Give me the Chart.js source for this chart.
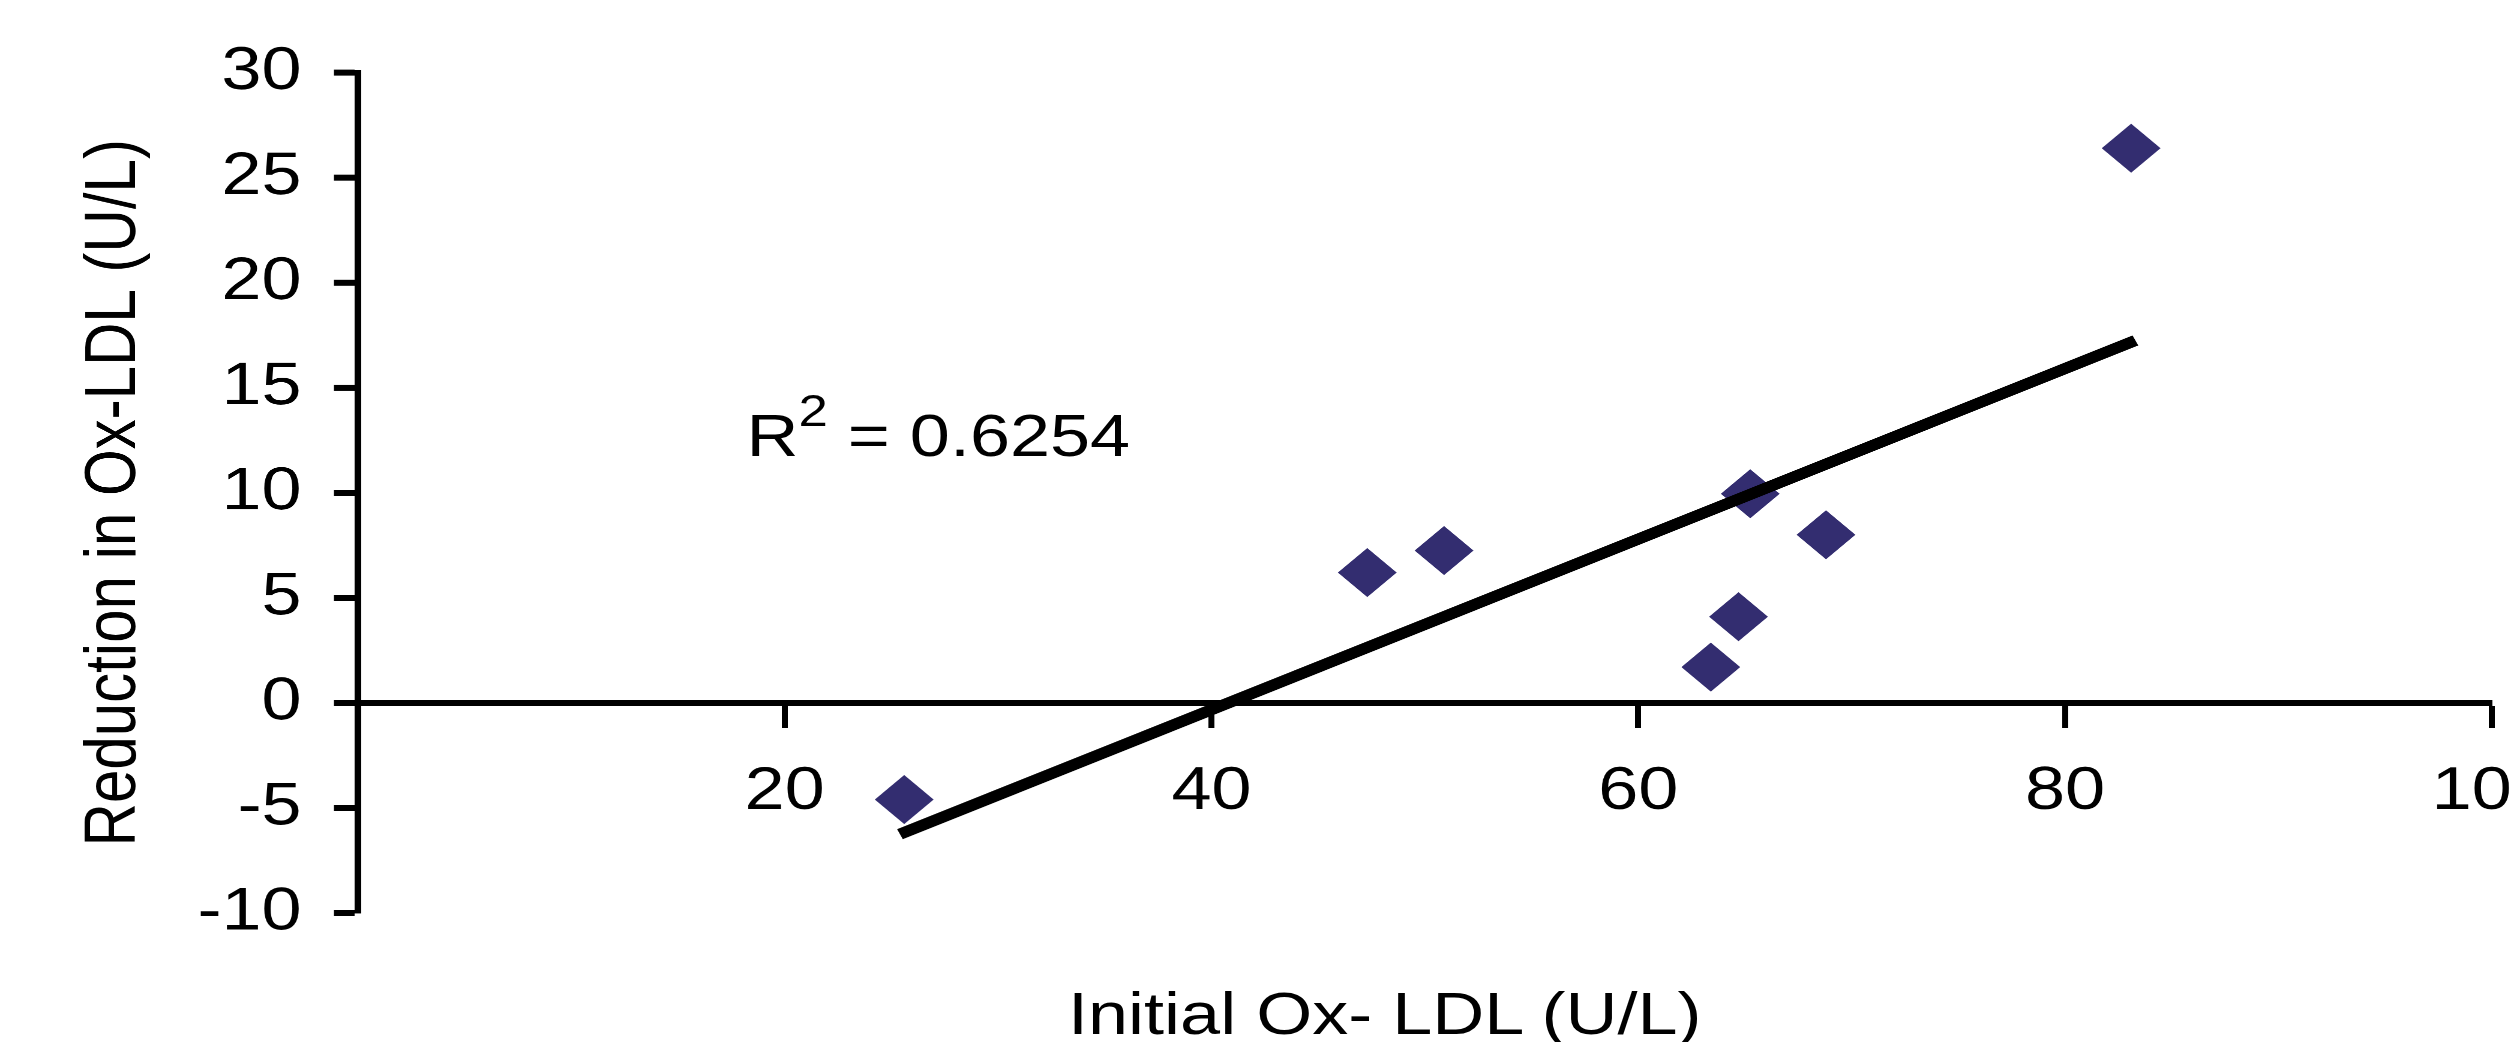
<!DOCTYPE html>
<html>
<head>
<meta charset="utf-8">
<script src="https://cdn.jsdelivr.net/npm/chart.js@4"></script>
<style>
  html, body { margin: 0; padding: 0; background: #fff; width: 2512px; height: 1042px; overflow: hidden; }
  /* the original figure is stretched sideways, so the whole drawing is widened by 1.2 */
  #wrap { position: relative; width: 2158px; height: 1042px; transform: scaleX(1.2); transform-origin: 0 0; }
  #box { position: absolute; left: 0; top: 0; width: 2158px; height: 975.5px; }
  .note { position: absolute; font-family: "Liberation Sans", Arial, sans-serif; font-size: 60px; line-height: 60px; color: #000; white-space: nowrap; }
  #r2 { left: 622px; top: 406px; }
  #r2 span { font-size: 44px; position: relative; top: -30px; line-height: 0; }
  #xtitle { left: 754px; top: 984px; width: 800px; text-align: center; }
</style>
</head>
<body>
<div id="wrap">
  <div id="box"><canvas id="chart"></canvas></div>
  <div id="r2" class="note">R<span>2</span> = 0.6254</div>
  <div id="xtitle" class="note">Initial Ox- LDL (U/L)</div>
</div>
<script>
// points
const initialOxLDL = [25.6, 47.3, 50.9, 63.4, 64.7, 65.25, 68.8, 83.1];
const reductionOxLDL = [-4.6, 6.2, 7.25, 1.7, 4.1, 9.95, 8.0, 26.4];

// ends of the drawn trend line
const trendX = [25.4, 83.3];
const trendY = [-6.25, 17.25];

const xTicks = [0, 20, 40, 60, 80, 100];
const yTicks = [-10, -5, 0, 5, 10, 15, 20, 25, 30];

const points = initialOxLDL.map((x, i) => ({x: x, y: reductionOxLDL[i]}));
const trend = trendX.map((x, i) => ({x: x, y: trendY[i]}));

Chart.defaults.font.family = '"Liberation Sans", Arial, sans-serif';
Chart.defaults.color = "#000";

const ctx = document.getElementById("chart").getContext("2d");

new Chart(ctx, {
  type: "scatter",
  data: {
    datasets: [
      {
        type: "line",
        label: "Trend",
        data: trend,
        borderColor: "#000",
        borderWidth: 11,
        pointRadius: 0,
        fill: false,
        tension: 0
      },
      {
        label: "Ox-LDL",
        data: points,
        pointStyle: "rectRot",
        pointRadius: 24.5,
        pointHoverRadius: 24.5,
        backgroundColor: "#332D70",
        borderWidth: 0
      }
    ]
  },
  options: {
    responsive: true,
    maintainAspectRatio: false,
    devicePixelRatio: 2,
    animation: false,
    layout: { padding: { top: 72.5, right: 60, bottom: 60, left: 0 } },
    plugins: {
      legend: { display: false },
      tooltip: { enabled: false }
    },
    scales: {
      x: {
        type: "linear",
        axis: "x",
        position: { y: 0 },
        min: xTicks[0],
        max: xTicks[xTicks.length - 1],
        afterBuildTicks: scale => { scale.ticks = xTicks.map(v => ({value: v})); },
        ticks: {
          font: { size: 60 },
          padding: 31.5,
          maxRotation: 0,
          autoSkip: false,
          callback: v => (v === 0 ? "" : v)
        },
        grid: { drawOnChartArea: false, tickLength: 22, tickWidth: 5, tickColor: "#000" },
        border: { color: "#000", width: 6 }
      },
      y: {
        type: "linear",
        position: "left",
        min: yTicks[0],
        max: yTicks[yTicks.length - 1],
        afterBuildTicks: scale => { scale.ticks = yTicks.map(v => ({value: v})); },
        afterFit: scale => { scale.width = 298.3; },
        ticks: { font: { size: 60 }, padding: 27, autoSkip: false },
        grid: { drawOnChartArea: false, tickLength: 20, tickWidth: 6, tickColor: "#000" },
        border: { color: "#000", width: 5.5 },
        title: {
          display: true,
          text: "Reduction in Ox-LDL (U/L)",
          font: { size: 60 },
          padding: { top: 60, bottom: 0 }
        }
      }
    }
  }
});
</script>
</body>
</html>
